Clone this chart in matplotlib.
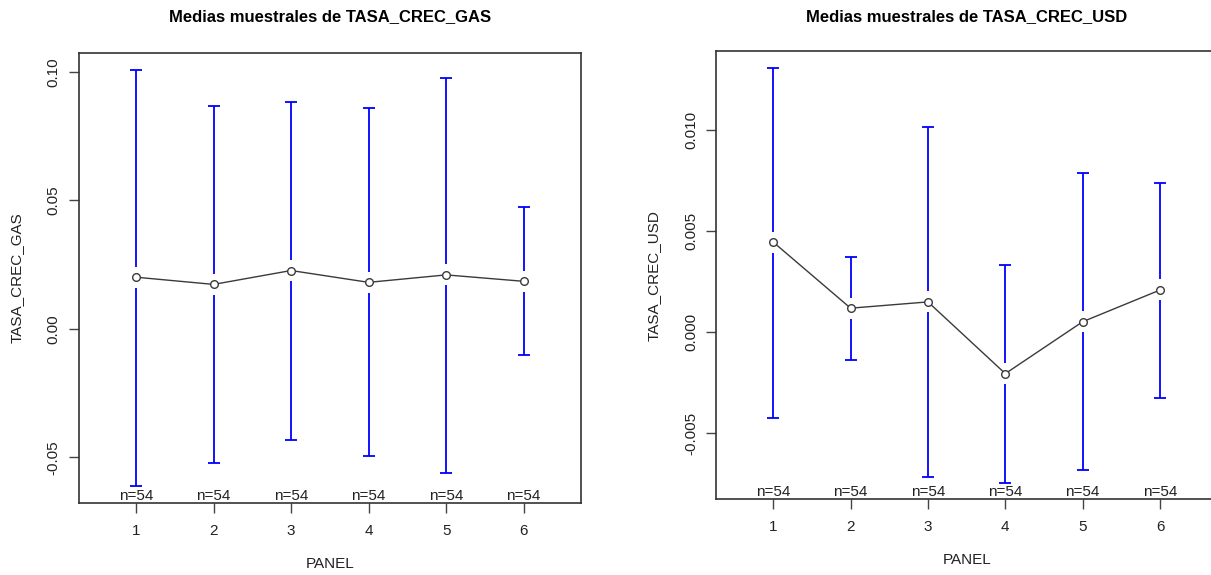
import matplotlib
matplotlib.use("Agg")
import matplotlib.pyplot as plt
import numpy as np
from matplotlib.ticker import FormatStrFormatter

plt.rcParams['font.family'] = ['Liberation Sans', 'DejaVu Sans']

# medias por panel e intervalos de confianza
paneles = [1, 2, 3, 4, 5, 6]
n_obs = [54, 54, 54, 54, 54, 54]

gas_media = [0.0201, 0.0173, 0.0227, 0.0181, 0.0210, 0.0185]
gas_sup = [0.1009, 0.0866, 0.0885, 0.0858, 0.0978, 0.0473]
gas_inf = [-0.0612, -0.0522, -0.0432, -0.0495, -0.0560, -0.0103]

usd_media = [0.00446, 0.00119, 0.00150, -0.00205, 0.00052, 0.00209]
usd_sup = [0.01310, 0.00374, 0.01016, 0.00335, 0.00787, 0.00739]
usd_inf = [-0.00423, -0.00136, -0.00716, -0.00745, -0.00682, -0.00324]

W, H = 1211, 575
fig = plt.figure(figsize=(W / 100, H / 100), dpi=100)


def plotmeans(caja, media, sup, inf, titulo, ylab, yticks, fmt):
    # caja en pixeles: izquierda, arriba, derecha, abajo
    x0, y0, x1, y1 = caja
    ax = fig.add_axes([x0 / W, 1 - y1 / H, (x1 - x0) / W, (y1 - y0) / H])
    x = np.array(paneles)
    media = np.array(media)
    sup = np.array(sup)
    inf = np.array(inf)

    lo, hi = inf.min(), sup.max()
    pad = (hi - lo) * 0.04
    ax.set_ylim(lo - pad, hi + pad)
    ax.set_xlim(0.5 - 0.24, len(x) + 0.5 + 0.24)

    # hueco alrededor de cada media (en unidades de datos)
    alto_px = y1 - y0
    ancho_px = x1 - x0
    gap = 10.5 * (hi - lo + 2 * pad) / alto_px

    azul = '#0000ff'
    ax.vlines(x, media + gap, sup, color=azul, lw=1.3)
    ax.vlines(x, inf, media - gap, color=azul, lw=1.3)
    ax.plot(x, sup, ls='none', marker='_', ms=9.2, mew=1.3, color=azul)
    ax.plot(x, inf, ls='none', marker='_', ms=9.2, mew=1.3, color=azul)

    ax.plot(x, media, color='#3a3a3a', lw=1.0, marker='o', ms=5.5,
            mfc='white', mec='#3a3a3a', mew=1.0, zorder=3)

    for xi, n in zip(x, n_obs):
        ax.text(xi, lo - pad, 'n=%d' % n, ha='center', va='bottom',
                fontsize=11, color='#222222')

    ax.set_xticks(x)
    ax.set_yticks(yticks)
    ax.yaxis.set_major_formatter(FormatStrFormatter(fmt))
    for lab in ax.get_yticklabels():
        lab.set_rotation(90)
        lab.set_va('center')
    ax.tick_params(axis='both', length=7, width=1.0, color='#444444',
                   labelsize=11, labelcolor='#222222')
    ax.tick_params(axis='x', pad=8)
    ax.tick_params(axis='y', pad=6)
    for s in ax.spines.values():
        s.set_linewidth(1.2)
        s.set_color('#333333')

    ax.text(0.5, 1 + (y0 - 17) / alto_px, titulo, transform=ax.transAxes,
            ha='center', va='center', fontsize=12, fontweight='bold')
    ax.set_xlabel('PANEL', fontsize=11, color='#222222')
    ax.set_ylabel(ylab, fontsize=11, color='#222222')
    ax.xaxis.set_label_coords(0.5, -61 / alto_px)
    ax.yaxis.set_label_coords(-62 / ancho_px, 0.5)
    ax.xaxis.label.set_va('center')
    ax.yaxis.label.set_va('center')
    return ax


plotmeans((78.7, 53, 581, 502.7), gas_media, gas_sup, gas_inf,
          'Medias muestrales de TASA_CREC_GAS', 'TASA_CREC_GAS',
          [-0.05, 0.0, 0.05, 0.10], '%.2f')
plotmeans((716, 51, 1217.3, 499.3), usd_media, usd_sup, usd_inf,
          'Medias muestrales de TASA_CREC_USD', 'TASA_CREC_USD',
          [-0.005, 0.0, 0.005, 0.010], '%.3f')

fig.savefig('out.png', dpi=100)
